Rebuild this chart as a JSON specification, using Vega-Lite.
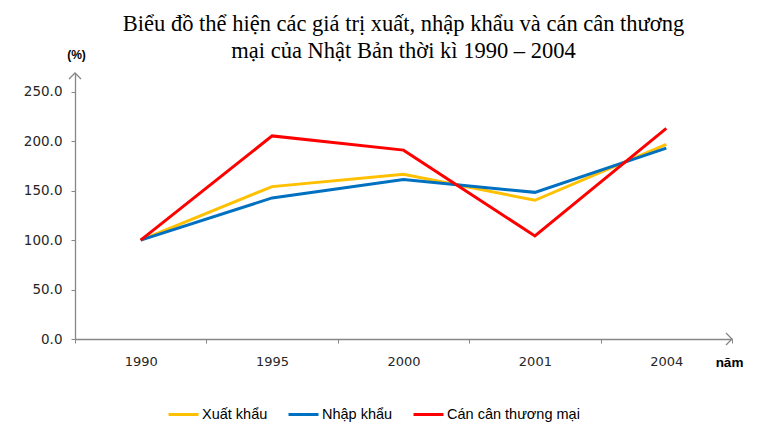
{
  "$schema": "https://vega.github.io/schema/vega-lite/v6.json",
  "autosize": {"type": "none"},
  "padding": {"left": 75, "top": 73, "right": 44, "bottom": 95},
  "width": 657,
  "height": 266,
  "background": "white",
  "title": {
    "text": ["Biểu đồ thể hiện các giá trị xuất, nhập khẩu và cán cân thương", "mại của Nhật Bản thời kì 1990 – 2004"],
    "font": "Liberation Serif",
    "fontSize": 22.5,
    "fontWeight": "normal",
    "color": "#000000",
    "anchor": "middle",
    "frame": "group",
    "lineHeight": 27,
    "offset": -14
  },
  "config": {
    "view": {"stroke": null},
    "axis": {"grid": false}
  },
  "layer": [
    {
      "data": {
        "values": [
          {"year": "1990", "series": "Xuất khẩu", "value": 100},
          {"year": "1995", "series": "Xuất khẩu", "value": 154.1},
          {"year": "2000", "series": "Xuất khẩu", "value": 166.6},
          {"year": "2001", "series": "Xuất khẩu", "value": 140.3},
          {"year": "2004", "series": "Xuất khẩu", "value": 196.7},
          {"year": "1990", "series": "Nhập khẩu", "value": 100},
          {"year": "1995", "series": "Nhập khẩu", "value": 142.7},
          {"year": "2000", "series": "Nhập khẩu", "value": 161.2},
          {"year": "2001", "series": "Nhập khẩu", "value": 148.3},
          {"year": "2004", "series": "Nhập khẩu", "value": 193.1},
          {"year": "1990", "series": "Cán cân thương mại", "value": 100},
          {"year": "1995", "series": "Cán cân thương mại", "value": 205.4},
          {"year": "2000", "series": "Cán cân thương mại", "value": 191.0},
          {"year": "2001", "series": "Cán cân thương mại", "value": 104.2},
          {"year": "2004", "series": "Cán cân thương mại", "value": 213.0}
        ]
      },
      "mark": {"type": "line", "strokeWidth": 3, "strokeJoin": "miter"},
      "encoding": {
        "x": {
          "field": "year",
          "type": "ordinal",
          "sort": null,
          "scale": {"type": "band", "paddingInner": 0, "paddingOuter": 0},
          "axis": {
            "title": "năm",
            "titleFont": "Liberation Sans",
            "titleFontSize": 13.5,
            "titleFontWeight": "bold",
            "titleColor": "#000000",
            "titleX": 654,
            "titleY": 23,
            "titleAlign": "center",
            "titleBaseline": "middle",
            "labelAngle": 0,
            "labelFont": "DejaVu Sans",
            "labelFontSize": 13,
            "labelColor": "#262626",
            "labelPadding": 12,
            "tickBand": "extent",
            "tickSize": 4,
            "tickColor": "#868686",
            "domainColor": "#868686",
            "domainWidth": 1.3
          }
        },
        "y": {
          "field": "value",
          "type": "quantitative",
          "scale": {"domain": [0, 269], "nice": false, "zero": true},
          "axis": {
            "title": "(%)",
            "titleAngle": 0,
            "titleFont": "Liberation Sans",
            "titleFontSize": 12,
            "titleFontWeight": "bold",
            "titleColor": "#000000",
            "titleX": 1,
            "titleY": -19,
            "titleAlign": "center",
            "titleBaseline": "middle",
            "values": [0, 50, 100, 150, 200, 250],
            "format": ".1f",
            "labelFont": "DejaVu Sans",
            "labelFontSize": 13.5,
            "labelColor": "#262626",
            "labelPadding": 9,
            "tickSize": 4,
            "tickColor": "#868686",
            "domainColor": "#868686",
            "domainWidth": 1.3
          }
        },
        "color": {
          "field": "series",
          "type": "nominal",
          "scale": {
            "domain": ["Xuất khẩu", "Nhập khẩu", "Cán cân thương mại"],
            "range": ["#FFC000", "#0070C0", "#FF0000"]
          },
          "legend": {
            "title": null,
            "orient": "none",
            "legendX": 92,
            "legendY": 325,
            "direction": "horizontal",
            "columns": 3,
            "gridAlign": "none",
            "columnPadding": 14,
            "symbolType": "stroke",
            "symbolSize": 900,
            "symbolStrokeWidth": 3,
            "labelFont": "Liberation Sans",
            "labelFontSize": 14.5,
            "labelColor": "#000000",
            "labelOffset": 2
          }
        }
      }
    },
    {
      "data": {"values": [{"axis": "y"}]},
      "mark": {"type": "point", "shape": "M-1,1L0,0L1,1", "filled": false, "size": 144, "stroke": "#868686", "strokeWidth": 1.3, "opacity": 1},
      "encoding": {
        "x": {"value": 0},
        "y": {"datum": 269, "type": "quantitative"}
      }
    },
    {
      "data": {"values": [{"axis": "x"}]},
      "mark": {"type": "point", "shape": "M-1,-1L0,0L-1,1", "filled": false, "size": 144, "stroke": "#868686", "strokeWidth": 1.3, "opacity": 1},
      "encoding": {
        "x": {"value": {"expr": "width"}},
        "y": {"datum": 0, "type": "quantitative"}
      }
    }
  ]
}
